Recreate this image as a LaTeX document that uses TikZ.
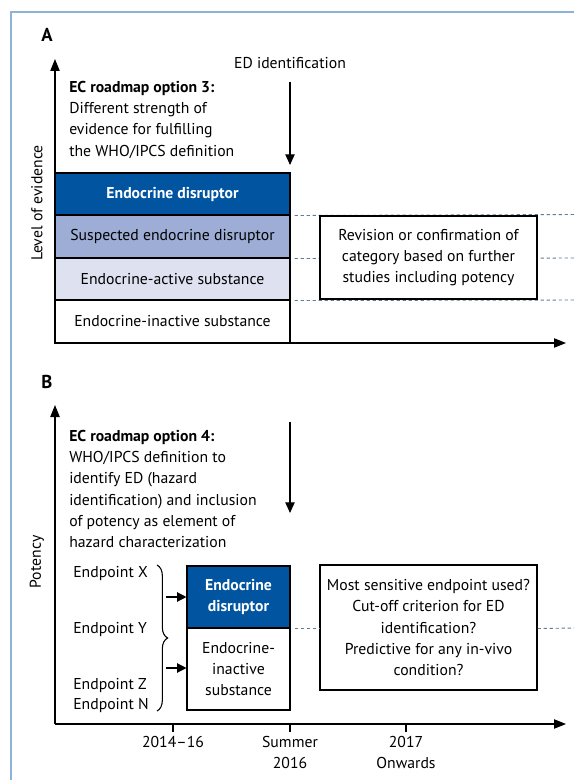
\documentclass[tikz,border=0pt]{standalone}
\usepackage{fontspec}
\setmainfont{PT Sans}
\usetikzlibrary{arrows.meta,decorations.pathreplacing}
\definecolor{edblue}{HTML}{0054A0}
\definecolor{susblue}{HTML}{9DADD5}
\definecolor{actblue}{HTML}{DDE1F0}
\definecolor{frameblue}{HTML}{8DB3D9}
\definecolor{dashcol}{HTML}{5F7F8F}
\tikzset{
  txt/.style={font=\fontsize{11.8}{15.9}\selectfont, inner sep=0pt},
  cat/.style={draw=black, line width=0.8pt, txt, align=center},
  qbox/.style={draw=black, line width=0.8pt, fill=white, txt, align=center},
  axis/.style={line width=0.9pt, -{Triangle[length=9pt,width=7pt]}},
  down/.style={line width=0.9pt, -{Triangle[length=8pt,width=7pt]}},
  small/.style={line width=0.9pt, -{Triangle[length=7pt,width=7pt]}},
  dline/.style={dashcol, line width=0.7pt, dash pattern=on 2.5pt off 2pt},
  tick/.style={line width=0.9pt},
  lab/.style={font=\fontsize{14}{16}\selectfont\bfseries, inner sep=0pt}
}
\begin{document}
\begin{tikzpicture}[x=0.75pt,y=-0.75pt]
\useasboundingbox (0,0) rectangle (574,780);
\fill[white] (0,0) rectangle (574,780);
% frame
\draw[frameblue, line width=1.5pt] (11,780) -- (11,12) -- (574,12);

% ---------------- Panel A
\node[lab] (labA) at (47,35) {A};
\coordinate (oA) at (55,343);
\coordinate (yA) at (55,59);
\coordinate (xA) at (566,343);
\draw[axis] (oA) -- (yA);
\draw[axis] (oA) -- (xA);
\node[txt, rotate=90] (levA) at (37,203) {Level of evidence};

\node[txt] (edid) at (290,63) {ED identification};
\coordinate (edtip) at (290,165);
\draw[down] ([yshift=-10pt]edid.south) -- (edtip);

\node[txt, anchor=north west, align=left] (optA) at (69,81)
 {\textbf{EC roadmap option 3:}\\Different strength of\\evidence for fulfilling\\the WHO/IPCS definition};

\node[cat, fill=edblue, text=white, font=\fontsize{11.8}{15.9}\selectfont\bfseries,
  minimum width=235*0.75pt, minimum height=42*0.75pt] (edA) at (172.5,194) {Endocrine disruptor};
\node[cat, fill=susblue, minimum width=235*0.75pt, minimum height=43*0.75pt] (susA) at (172.5,236.5) {Suspected endocrine disruptor};
\node[cat, fill=actblue, minimum width=235*0.75pt, minimum height=42*0.75pt] (actA) at (172.5,279) {Endocrine-active substance};
\node[cat, fill=white, minimum width=235*0.75pt, minimum height=43*0.75pt] (inaA) at (172.5,321.5) {Endocrine-inactive substance};

\coordinate (dA1) at (574,214.5);
\coordinate (dA2) at (574,258);
\coordinate (dA3) at (574,300);
\draw[dline] ([xshift=3pt]edA.south east) -- (dA1);
\draw[dline] ([xshift=3pt]susA.south east) -- (dA2);
\draw[dline] ([xshift=3pt]actA.south east) -- (dA3);

\node[qbox, minimum width=217*0.75pt, minimum height=83*0.75pt] (revA) at (428.5,257.5)
 {Revision or confirmation of\\category based on further\\studies including potency};

% ---------------- Panel B
\node[lab] (labB) at (47,382) {B};
\coordinate (oB) at (55,724);
\coordinate (yB) at (55,405);
\coordinate (xB) at (566,724);
\draw[axis] (oB) -- (yB);
\draw[axis] (oB) -- (xB);
\node[txt, rotate=90] (potB) at (37,562) {Potency};

\coordinate (arB1) at (290,422);
\coordinate (arB2) at (290,513);
\draw[down] (arB1) -- (arB2);

\node[txt, anchor=north west, align=left] (optB) at (69,430)
 {\textbf{EC roadmap option 4:}\\WHO/IPCS definition to\\identify ED (hazard\\identification) and inclusion\\of potency as element of\\hazard characterization};

\node[txt, anchor=west] (epX) at (73,573) {Endpoint X};
\node[txt, anchor=west] (epY) at (73,629) {Endpoint Y};
\node[txt, anchor=west] (epZ) at (73,685) {Endpoint Z};
\node[txt, anchor=west] (epN) at (73,705) {Endpoint N};

\coordinate (brT) at (157,565);
\coordinate (brB) at (157,711);
\draw[line width=0.8pt, decorate, decoration={brace, amplitude=8pt, aspect=0.5}] (brT) -- (brB);

\node[cat, fill=edblue, text=white, font=\fontsize{11.8}{15.9}\selectfont\bfseries,
  minimum width=103*0.75pt, minimum height=62*0.75pt] (edB) at (238.5,597) {Endocrine\\disruptor};
\node[cat, fill=white, minimum width=103*0.75pt, minimum height=82*0.75pt] (inaB) at (238.5,669) {Endocrine-\\inactive\\substance};

\coordinate (aX) at (166,597);
\coordinate (aZ) at (166,668);
\draw[small] (aX) -- (edB.west);
\draw[small] (aZ) -- (aZ -| inaB.west);

\node[qbox, minimum width=217*0.75pt, minimum height=125*0.75pt] (qB) at (428.5,627.5)
 {Most sensitive endpoint used?\\Cut-off criterion for ED\\identification?\\Predictive for any in-vivo\\condition?};

\coordinate (dB) at (574,628);
\draw[dline] ([xshift=3pt]edB.south east) -- (qB.west |- edB.south east);
\draw[dline] (qB.east |- edB.south east) -- (dB);

% ticks
\coordinate (t1) at (173,724);
\coordinate (t2) at (290,724);
\coordinate (t3) at (406,724);
\draw[tick] (t1) -- ++(0,8);
\draw[tick] (t2) -- ++(0,8);
\draw[tick] (t3) -- ++(0,8);
\node[txt, align=center, anchor=north] (l1) at (173,736) {2014–16};
\node[txt, align=center, anchor=north] (l2) at (290,736) {Summer\\2016};
\node[txt, align=center, anchor=north] (l3) at (406,736) {2017\\Onwards};
\end{tikzpicture}
\end{document}
